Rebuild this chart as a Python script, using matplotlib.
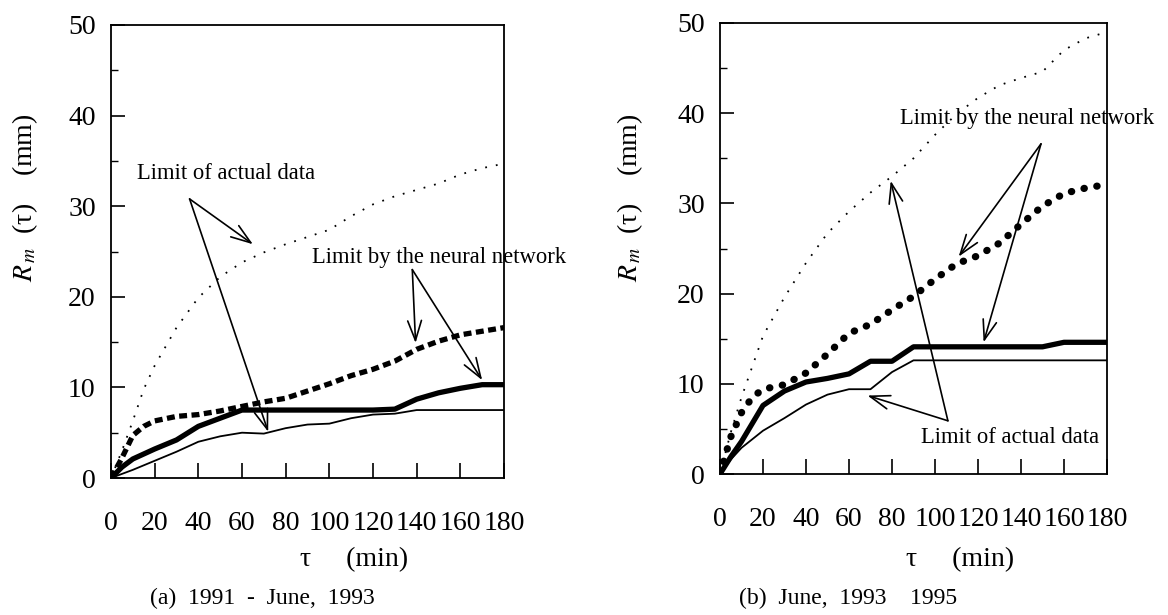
import matplotlib
matplotlib.use('Agg')
import matplotlib.pyplot as plt
from matplotlib.ticker import MultipleLocator

plt.rcParams['font.family'] = ['Liberation Serif', 'DejaVu Serif']
plt.rcParams['mathtext.fontset'] = 'stix'

# ---------------- data : panel (a) 1991 - June, 1993 ----------------
a_dot_tau = [0, 5, 10, 15, 20, 30, 40, 50, 60, 70, 80, 90, 100, 110, 120, 130, 140, 150, 160, 170, 180]
a_dot_val = [0, 3.0, 6.3, 9.8, 12.4, 16.6, 19.9, 22.2, 23.8, 24.9, 25.8, 26.6, 27.4, 28.9, 30.2, 31.1, 31.8, 32.5, 33.5, 34.2, 34.7]

a_nnd_tau = [0, 5, 10, 15, 20, 30, 40, 50, 60, 70, 80, 90, 100, 110, 120, 130, 140, 150, 160, 170, 180]
a_nnd_val = [0, 2.2, 4.7, 5.7, 6.3, 6.8, 7.0, 7.4, 7.9, 8.4, 8.8, 9.6, 10.4, 11.3, 12.0, 12.9, 14.2, 15.1, 15.8, 16.2, 16.6]

a_nns_tau = [0, 5, 10, 20, 30, 40, 50, 60, 70, 80, 90, 100, 110, 120, 130, 140, 150, 160, 170, 180]
a_nns_val = [0, 1.2, 2.1, 3.2, 4.2, 5.7, 6.6, 7.5, 7.5, 7.5, 7.5, 7.5, 7.5, 7.5, 7.6, 8.7, 9.4, 9.9, 10.3, 10.3]

a_act_tau = [0, 10, 20, 30, 40, 50, 60, 70, 80, 90, 100, 110, 120, 130, 140, 150, 160, 170, 180]
a_act_val = [0, 0.9, 1.9, 2.9, 4.0, 4.6, 5.0, 4.9, 5.5, 5.9, 6.0, 6.6, 7.0, 7.1, 7.5, 7.5, 7.5, 7.5, 7.5]

# ---------------- data : panel (b) June, 1993 - 1995 ----------------
b_dot_tau = [0, 5, 10, 20, 30, 40, 50, 60, 70, 80, 90, 100, 110, 120, 130, 140, 150, 160, 170, 180]
b_dot_val = [0, 4.6, 8.5, 15.3, 19.6, 23.4, 26.7, 29.1, 31.2, 33.0, 35.0, 37.6, 39.9, 41.7, 43.1, 43.9, 44.6, 47.0, 48.3, 49.0]

b_nnd_tau = [0, 5, 10, 15, 20, 30, 40, 50, 60, 70, 80, 90, 100, 110, 120, 130, 140, 150, 160, 170, 180]
b_nnd_val = [0, 4.1, 6.8, 8.5, 9.4, 9.9, 11.2, 13.3, 15.6, 16.6, 18.2, 19.7, 21.6, 23.3, 24.2, 25.6, 27.7, 29.7, 31.1, 31.7, 32.1]

b_nns_tau = [0, 5, 10, 20, 30, 40, 50, 60, 70, 80, 90, 100, 110, 120, 130, 140, 150, 160, 170, 180]
b_nns_val = [0, 1.9, 3.6, 7.6, 9.2, 10.2, 10.6, 11.1, 12.5, 12.5, 14.1, 14.1, 14.1, 14.1, 14.1, 14.1, 14.1, 14.6, 14.6, 14.6]

b_act_tau = [0, 5, 10, 20, 30, 40, 50, 60, 70, 80, 90, 100, 110, 120, 130, 140, 150, 160, 170, 180]
b_act_val = [0, 1.6, 2.9, 4.8, 6.2, 7.7, 8.8, 9.4, 9.4, 11.3, 12.6, 12.6, 12.6, 12.6, 12.6, 12.6, 12.6, 12.6, 12.6, 12.6]

x_ticks = [0, 20, 40, 60, 80, 100, 120, 140, 160, 180]
y_ticks = [0, 10, 20, 30, 40, 50]

txt_actual = 'Limit of actual data'
txt_nn = 'Limit by the neural network'
caption_a = '(a)  1991  -  June,  1993'
caption_b = '(b)  June,  1993    1995'
ylabel = r'$R_{\,m}$  (τ)    (mm)'
xlabel = 'τ     (min)'

W, H = 1168, 615
fig = plt.figure(figsize=(W / 100, H / 100), dpi=100)

def box(l, t, r, b):
    return [l / W, 1 - b / H, (r - l) / W, (b - t) / H]

ax_a = fig.add_axes(box(111, 25, 504, 478))
ax_b = fig.add_axes(box(720, 23, 1107, 474))

def style(ax):
    ax.set_xlim(0, 180)
    ax.set_ylim(0, 50)
    ax.set_xticks(x_ticks)
    ax.set_yticks(y_ticks)
    ax.yaxis.set_minor_locator(MultipleLocator(5))
    ax.tick_params(axis='x', which='major', direction='in', length=11, width=1.2,
                   pad=24, labelsize=20)
    ax.tick_params(axis='y', which='major', direction='in', length=10, width=1.2,
                   pad=11, labelsize=20)
    ax.tick_params(axis='y', which='minor', direction='in', length=5, width=1.0)
    for s in ax.spines.values():
        s.set_linewidth(1.3)

def draw(ax, dot_t, dot_v, nnd_t, nnd_v, nns_t, nns_v, act_t, act_v, dots_round):
    ax.plot(dot_t, dot_v, color='black', lw=1.3, linestyle=(0, (1.0, 5.0)))
    if dots_round:
        ax.plot(nnd_t, nnd_v, color='black', lw=5.2, linestyle=(0, (0.05, 1.75)),
                dash_capstyle='round')
    else:
        ax.plot(nnd_t, nnd_v, color='black', lw=3.8, linestyle=(0, (1.5, 0.85)),
                dash_capstyle='butt')
    ax.plot(act_t, act_v, color='black', lw=1.3)
    ax.plot(nns_t, nns_v, color='black', lw=3.8, solid_capstyle='butt')

style(ax_a)
style(ax_b)
draw(ax_a, a_dot_tau, a_dot_val, a_nnd_tau, a_nnd_val, a_nns_tau, a_nns_val,
     a_act_tau, a_act_val, False)
draw(ax_b, b_dot_tau, b_dot_val, b_nnd_tau, b_nnd_val, b_nns_tau, b_nns_val,
     b_act_tau, b_act_val, True)

arw = dict(arrowstyle='->,head_length=0.95,head_width=0.33', lw=1.2, color='black',
           shrinkA=0, shrinkB=0, mutation_scale=15)

def annot(ax, text, tpos, start, targets, fs=16.3):
    ax.text(tpos[0], tpos[1], text, fontsize=fs, ha='left', va='center', clip_on=False)
    for tg in targets:
        ax.annotate('', xy=tg, xytext=start, arrowprops=arw, annotation_clip=False)

annot(ax_a, txt_actual, (12, 33.6), (36, 30.8), [(65, 25.8), (72, 5.1)])
annot(ax_a, txt_nn, (92, 24.3), (138, 23.0), [(139.5, 14.9), (170, 10.8)])
annot(ax_b, txt_nn, (83.5, 39.4), (149.3, 36.6), [(111, 24.1), (122.6, 14.6)])
annot(ax_b, txt_actual, (93.5, 4.0), (106, 5.9), [(79.4, 32.5), (68.6, 8.7)])

for xc in (25, 630):
    fig.text(xc / W, 1 - 198 / H, ylabel, rotation=90, ha='center', va='center', fontsize=20)
fig.text(300 / W, 1 - 560 / H, xlabel, ha='left', va='center', fontsize=20)
fig.text(906 / W, 1 - 560 / H, xlabel, ha='left', va='center', fontsize=20)
fig.text(262 / W, 1 - 598 / H, caption_a, ha='center', va='center', fontsize=17)
fig.text(848 / W, 1 - 598 / H, caption_b, ha='center', va='center', fontsize=17)

fig.savefig('out.png', dpi=100)
